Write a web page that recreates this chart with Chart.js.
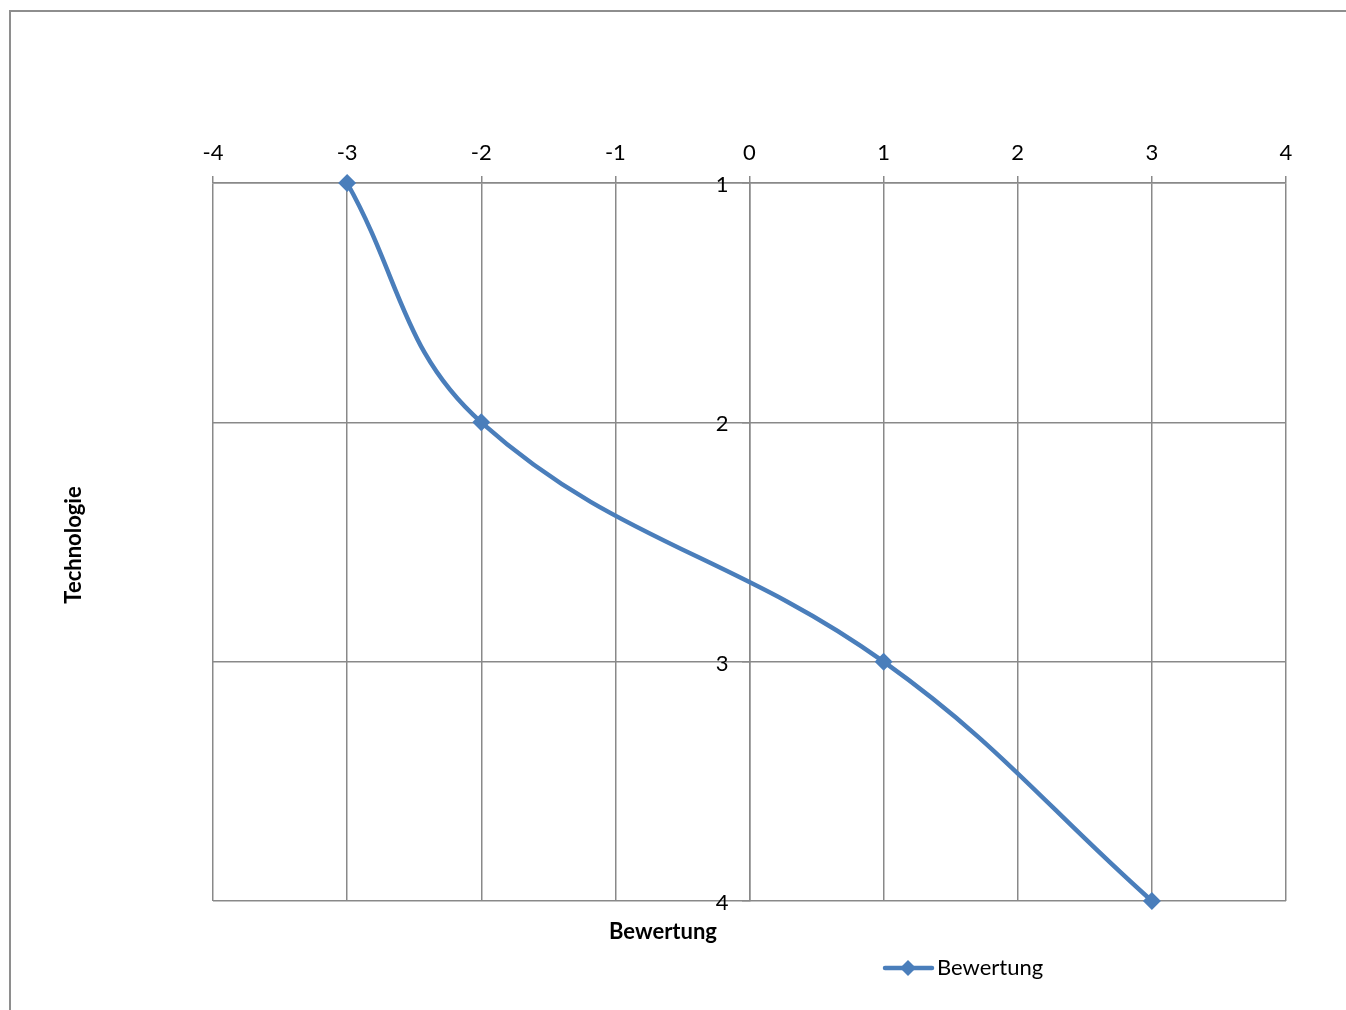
<!DOCTYPE html>
<html>
<head>
<meta charset="utf-8">
<title>Bewertung</title>
<script src="https://cdn.jsdelivr.net/npm/chart.js@4.4.0/dist/chart.umd.min.js"></script>
<style>
html, body { margin: 0; padding: 0; background: #fff; overflow: hidden; }
#wrap { position: relative; width: 1346px; height: 1010px; }
#frame { position: absolute; left: 9px; top: 10px; width: 1400px; height: 1100px;
         border-left: 2px solid #8e8e8e; border-top: 2px solid #8e8e8e; }
#chart { position: absolute; left: 0; top: 0; }
</style>
</head>
<body>
<div id="wrap">
  <div id="frame"></div>
  <canvas id="chart" width="1346" height="1010"></canvas>
</div>
<script>
// data
var seriesName = 'Bewertung';
var bewertung = [-3, -2, 1, 3];      // x values
var technologie = [1, 2, 3, 4];      // y values
var xTitle = 'Bewertung';
var yTitle = 'Technologie';

var blue = '#4a7ebb';
var gridGray = '#898989';
var font = 'Lato, "Open Sans", sans-serif';

var points = [];
for (var i = 0; i < bewertung.length; i++) {
    points.push({ x: bewertung[i], y: technologie[i] });
}

// y tick labels sit left of the x=0 axis, plus axis titles and legend
var extras = {
    id: 'extras',
    afterDatasetsDraw: function(chart) {
        var ctx = chart.ctx;
        var xs = chart.scales.x, ys = chart.scales.y;
        var axisX = xs.getPixelForValue(0);
        ctx.save();
        ctx.fillStyle = '#000';
        ctx.font = '22px ' + font;
        ctx.textAlign = 'right';
        ctx.textBaseline = 'middle';
        ys.ticks.forEach(function(t) {
            ctx.fillText(String(t.value), axisX - 21, ys.getPixelForValue(t.value) + 2);
        });
        ctx.restore();
    },
    afterDraw: function(chart) {
        var ctx = chart.ctx;
        var area = chart.chartArea;
        ctx.save();
        ctx.fillStyle = '#000';
        ctx.textBaseline = 'middle';
        ctx.textAlign = 'center';
        ctx.font = 'bold 22px ' + font;
        ctx.fillText(xTitle, 663, area.bottom + 31);

        ctx.save();
        ctx.translate(74, 545);
        ctx.rotate(-Math.PI / 2);
        ctx.fillText(yTitle, 0, 0);
        ctx.restore();

        // legend
        var ly = area.bottom + 67;
        ctx.strokeStyle = blue;
        ctx.lineWidth = 4.5;
        ctx.lineCap = 'round';
        ctx.beginPath();
        ctx.moveTo(885, ly);
        ctx.lineTo(932, ly);
        ctx.stroke();
        ctx.fillStyle = blue;
        ctx.beginPath();
        ctx.moveTo(908, ly - 8);
        ctx.lineTo(916, ly);
        ctx.lineTo(908, ly + 8);
        ctx.lineTo(900, ly);
        ctx.closePath();
        ctx.fill();
        ctx.fillStyle = '#000';
        ctx.textAlign = 'left';
        ctx.font = '22px ' + font;
        ctx.fillText(seriesName, 937, ly);
        ctx.restore();
    }
};

new Chart(document.getElementById('chart'), {
    type: 'scatter',
    data: {
        datasets: [{
            label: seriesName,
            data: points,
            showLine: true,
            tension: 0.4,
            clip: false,
            borderColor: blue,
            backgroundColor: blue,
            borderWidth: 4.5,
            pointStyle: 'rectRot',
            pointRadius: 9,
            pointBorderWidth: 0
        }]
    },
    options: {
        responsive: false,
        devicePixelRatio: 1,
        animation: false,
        layout: { padding: { left: 213, right: 60, top: 0, bottom: 109 } },
        plugins: {
            legend: { display: false },
            tooltip: { enabled: false }
        },
        scales: {
            x: {
                type: 'linear',
                position: 'top',
                min: -4,
                max: 4,
                afterFit: function(scale) { scale.height = 183; },
                ticks: { stepSize: 1, padding: 10, color: '#000', font: { family: font, size: 22 } },
                grid: { color: gridGray, lineWidth: 1.5, tickLength: 7 },
                border: { color: gridGray, width: 1.5 }
            },
            y: {
                type: 'linear',
                position: { x: 0 },
                reverse: true,
                min: 1,
                max: 4,
                ticks: { stepSize: 1, display: false },
                grid: { color: gridGray, lineWidth: 1.5, tickLength: 7 },
                border: { color: gridGray, width: 1.5 }
            }
        }
    },
    plugins: [extras]
});
</script>
</body>
</html>
